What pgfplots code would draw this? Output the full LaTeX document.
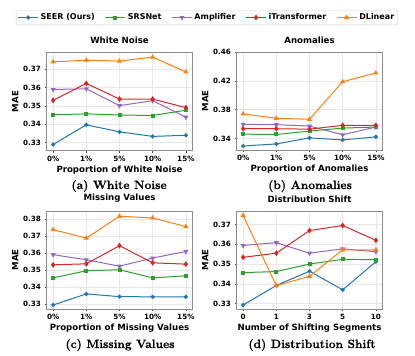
\documentclass[border=0pt]{standalone}
\usepackage{fontspec}
\usepackage{pgfplots}
\pgfplotsset{compat=1.18}
\newfontfamily\dejavu{DejaVu Sans}
\newfontfamily\capfont{lmroman12-bold.otf}[FakeBold=0.6]

\definecolor{cblue}{HTML}{1F77B4}
\definecolor{corange}{HTML}{FF7F0E}
\definecolor{cgreen}{HTML}{2CA02C}
\definecolor{cred}{HTML}{D62728}
\definecolor{cpurple}{HTML}{9467BD}

\pgfplotsset{
  panel/.style={
    width=146pt, height=98pt, scale only axis,
    xmin=-0.2, xmax=4.2, xtick={0,1,2,3,4},
    grid=major,
    major grid style={black!9, line width=0.5pt},
    axis line style={black!45, line width=0.7pt},
    tick style={black!70, line width=0.6pt},
    tick align=outside, major tick length=2pt,
    xtick pos=left, ytick pos=left,
    /pgf/number format/assume math mode=true,
    tick label style={font=\dejavu\bfseries\fontsize{7.2}{8}\selectfont},
    label style={font=\dejavu\bfseries\fontsize{8.6}{10}\selectfont},
    title style={font=\dejavu\bfseries\fontsize{8.6}{10}\selectfont, yshift=-1pt},
    xlabel style={yshift=2.5pt},
    ylabel style={yshift=-2pt},
    yticklabel style={/pgf/number format/.cd, fixed, fixed zerofill, precision=2},
    every axis plot/.append style={line width=1pt},
    legend image code/.code={\draw[mark repeat=2,mark phase=2] plot coordinates {(0pt,0pt)(10pt,0pt)(20pt,0pt)};},
  },
  seer/.style={color=cblue, mark=*, mark size=1.6pt, mark options={solid}},
  srs/.style={color=cgreen, mark=square*, mark size=1.5pt, mark options={solid}},
  amp/.style={color=cpurple, mark=triangle*, mark size=2pt, mark options={solid, rotate=180}},
  itr/.style={color=cred, mark=diamond*, mark size=2.1pt, mark options={solid}},
  dlin/.style={color=corange, mark=triangle*, mark size=2pt, mark options={solid}},
}

\begin{document}
\begin{tikzpicture}
\useasboundingbox (0pt,0pt) rectangle (415pt,-356pt);

% (a) White noise
\begin{axis}[panel, at={(46.5pt,-150.5pt)}, anchor=south west,
  title={White Noise}, xlabel={Proportion of White Noise}, ylabel={MAE},
  xticklabels={0\%,1\%,5\%,10\%,15\%},
  ymin=0.3257, ymax=0.3792, ytick={0.33,0.34,0.35,0.36,0.37},
  legend columns=5,
  legend style={at={(axis description cs:1.099,1.357)}, anchor=center,
    draw=black!18, rounded corners=1.5pt, fill=white,
    font=\dejavu\bfseries\fontsize{8}{9}\selectfont,
    inner sep=1.5pt,
    /tikz/every even column/.append style={column sep=8pt}},
]
\addplot[seer] coordinates {(0,0.3290) (1,0.3397) (2,0.3359) (3,0.3334) (4,0.3340)};
\addlegendentry{SEER (Ours)}
\addplot[srs] coordinates {(0,0.3452) (1,0.3457) (2,0.3451) (3,0.3448) (4,0.3477)};
\addlegendentry{SRSNet}
\addplot[amp] coordinates {(0,0.3590) (1,0.3594) (2,0.3502) (3,0.3529) (4,0.3439)};
\addlegendentry{Amplifier}
\addplot[itr] coordinates {(0,0.3531) (1,0.3623) (2,0.3538) (3,0.3538) (4,0.3491)};
\addlegendentry{iTransformer}
\addplot[dlin] coordinates {(0,0.3741) (1,0.3750) (2,0.3745) (3,0.3767) (4,0.3686)};
\addlegendentry{DLinear}
\end{axis}

% (b) Anomalies
\begin{axis}[panel, at={(236.5pt,-150pt)}, anchor=south west,
  title={Anomalies}, xlabel={Proportion of Anomalies}, ylabel={MAE},
  xticklabels={0\%,1\%,5\%,10\%,15\%},
  ymin=0.3241, ymax=0.46, ytick={0.34,0.38,0.42,0.46},
]
\addplot[seer] coordinates {(0,0.3297) (1,0.3325) (2,0.3409) (3,0.3381) (4,0.3423)};
\addplot[srs] coordinates {(0,0.3461) (1,0.3456) (2,0.3503) (3,0.3545) (4,0.3559)};
\addplot[amp] coordinates {(0,0.3597) (1,0.3592) (2,0.3573) (3,0.3452) (4,0.3559)};
\addplot[itr] coordinates {(0,0.3536) (1,0.3536) (2,0.3530) (3,0.3583) (4,0.3583)};
\addplot[dlin] coordinates {(0,0.3742) (1,0.3681) (2,0.3667) (3,0.4188) (4,0.4309)};
\end{axis}

% (c) Missing values
\begin{axis}[panel, at={(46.5pt,-309pt)}, anchor=south west,
  title={Missing Values}, xlabel={Proportion of Missing Values}, ylabel={MAE},
  xticklabels={0\%,1\%,5\%,10\%,15\%},
  ymin=0.3270, ymax=0.3849, ytick={0.33,0.34,0.35,0.36,0.37,0.38},
]
\addplot[seer] coordinates {(0,0.3294) (1,0.3359) (2,0.3343) (3,0.3342) (4,0.3342)};
\addplot[srs] coordinates {(0,0.3454) (1,0.3496) (2,0.3502) (3,0.3454) (4,0.3466)};
\addplot[amp] coordinates {(0,0.3591) (1,0.3561) (2,0.3523) (3,0.3571) (4,0.3610)};
\addplot[itr] coordinates {(0,0.3531) (1,0.3537) (2,0.3644) (3,0.3543) (4,0.3535)};
\addplot[dlin] coordinates {(0,0.3739) (1,0.3689) (2,0.3818) (3,0.3808) (4,0.3757)};
\end{axis}

% (d) Distribution shift
\begin{axis}[panel, at={(236.5pt,-309pt)}, anchor=south west,
  title={Distribution Shift}, xlabel={Number of Shifting Segments}, ylabel={MAE},
  xticklabels={0,1,3,5,10},
  ymin=0.3273, ymax=0.3768, ytick={0.33,0.34,0.35,0.36,0.37},
]
\addplot[seer] coordinates {(0,0.3293) (1,0.3392) (2,0.3464) (3,0.3370) (4,0.3512)};
\addplot[srs] coordinates {(0,0.3457) (1,0.3462) (2,0.3500) (3,0.3524) (4,0.3522)};
\addplot[amp] coordinates {(0,0.3594) (1,0.3608) (2,0.3555) (3,0.3577) (4,0.3562)};
\addplot[itr] coordinates {(0,0.3534) (1,0.3555) (2,0.3669) (3,0.3695) (4,0.3620)};
\addplot[dlin] coordinates {(0,0.3746) (1,0.3391) (2,0.3438) (3,0.3572) (4,0.3572)};
\end{axis}

% sub-captions
\node[font=\capfont\fontsize{12}{14}\selectfont] at (119pt,-186pt) {(a) White Noise};
\node[font=\capfont\fontsize{12}{14}\selectfont] at (310pt,-186pt) {(b) Anomalies};
\node[font=\capfont\fontsize{12}{14}\selectfont] at (120pt,-345pt) {(c) Missing Values};
\node[font=\capfont\fontsize{12}{14}\selectfont] at (312pt,-345pt) {(d) Distribution Shift};
\end{tikzpicture}
\end{document}
